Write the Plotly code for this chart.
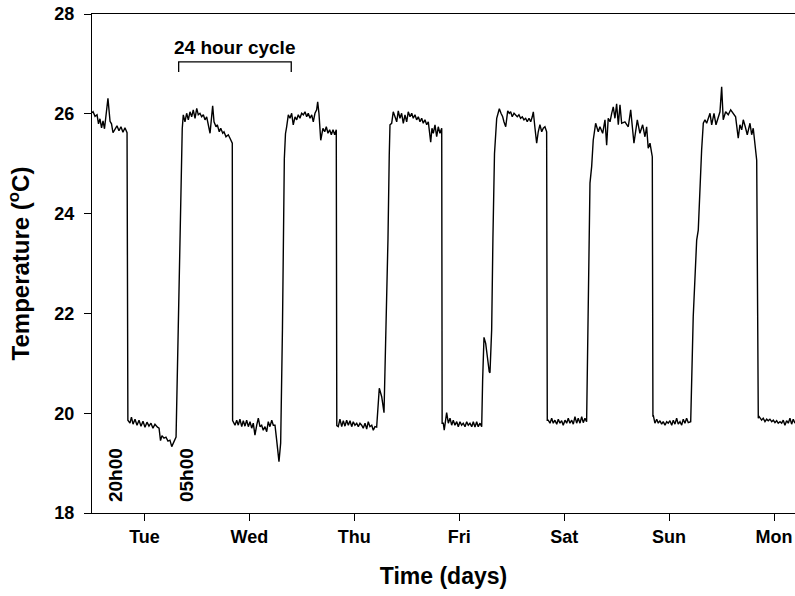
import plotly.graph_objects as go

# time in days (Mon 00:00 = 0, Tue = 1, ... next Mon = 7), temperature in deg C
days = [
    0.500, 0.510, 0.529, 0.548, 0.562, 0.576, 0.591, 0.605, 0.619, 0.633, 0.652, 0.672, 0.686, 0.700, 0.719, 0.738, 0.757, 0.776, 0.795, 0.814, 0.834,
    0.842, 0.862, 0.876, 0.891, 0.910, 0.929, 0.948, 0.967, 0.986, 1.005, 1.024, 1.043, 1.062, 1.081, 1.100, 1.124, 1.139, 1.153, 1.167, 1.186, 1.205, 1.224, 1.243, 1.260, 1.281, 1.301,
    1.322, 1.348, 1.360,
    1.370, 1.386, 1.402, 1.418, 1.434, 1.450, 1.465, 1.482, 1.498, 1.513, 1.529, 1.545, 1.561, 1.577, 1.593, 1.608, 1.625, 1.650, 1.663, 1.682, 1.694, 1.713, 1.727, 1.746, 1.758, 1.777, 1.799, 1.815, 1.831, 1.837,
    1.840, 1.847, 1.863, 1.879, 1.894, 1.910, 1.927, 1.942, 1.958, 1.974, 1.990, 2.006, 2.022, 2.037, 2.053, 2.070, 2.085, 2.101, 2.117, 2.132, 2.149, 2.165, 2.180, 2.196, 2.213, 2.228, 2.244, 2.260, 2.282, 2.298,
    2.315, 2.333, 2.344,
    2.355, 2.371, 2.387, 2.403, 2.418, 2.435, 2.451, 2.466, 2.482, 2.498, 2.514, 2.530, 2.546, 2.561, 2.578, 2.594, 2.609, 2.625, 2.641, 2.651, 2.663, 2.680, 2.701, 2.718, 2.733, 2.749, 2.765, 2.781, 2.797, 2.813, 2.828,
    2.833, 2.847, 2.863, 2.880, 2.895, 2.911, 2.927, 2.943, 2.959, 2.975, 2.990, 3.006, 3.023, 3.038, 3.054, 3.070, 3.085, 3.102, 3.118, 3.133, 3.149, 3.166, 3.181, 3.197, 3.213,
    3.238, 3.261, 3.283, 3.302, 3.321, 3.333,
    3.340, 3.356, 3.371, 3.388, 3.404, 3.419, 3.435, 3.451, 3.467, 3.483, 3.499, 3.514, 3.531, 3.547, 3.562, 3.578, 3.594, 3.610, 3.626, 3.642, 3.657, 3.673, 3.690, 3.705, 3.728, 3.740, 3.753, 3.769, 3.785, 3.800, 3.816, 3.833,
    3.837, 3.848, 3.857, 3.880, 3.896, 3.912, 3.928, 3.943, 3.959, 3.976, 3.991, 4.007, 4.023, 4.038, 4.055, 4.071, 4.086, 4.102, 4.119, 4.134, 4.150, 4.166, 4.181, 4.198, 4.214,
    4.223, 4.236, 4.252, 4.267, 4.286, 4.293, 4.309, 4.321, 4.336,
    4.357, 4.372, 4.382, 4.398, 4.414, 4.426, 4.443, 4.462, 4.477, 4.490, 4.505, 4.522, 4.538, 4.553, 4.569, 4.585, 4.601, 4.617, 4.633, 4.648, 4.665, 4.681, 4.696, 4.706, 4.722, 4.738, 4.753, 4.769, 4.786, 4.801, 4.817, 4.833,
    4.839, 4.848, 4.865, 4.881, 4.896, 4.912, 4.929, 4.944, 4.960, 4.976, 4.991, 5.008, 5.024, 5.039, 5.055, 5.072, 5.087, 5.103, 5.119, 5.134, 5.151, 5.167, 5.182, 5.198, 5.214,
    5.230, 5.246, 5.262, 5.277, 5.300,
    5.325, 5.341, 5.367, 5.389, 5.405, 5.420, 5.437, 5.453, 5.468, 5.484, 5.500, 5.516, 5.532, 5.548, 5.579, 5.611, 5.634, 5.665, 5.697, 5.722, 5.748, 5.770, 5.786, 5.801, 5.818, 5.834, 5.840,
    5.846, 5.849, 5.865, 5.882, 5.897, 5.913, 5.929, 5.944, 5.961, 5.977, 5.992, 6.008, 6.025, 6.040, 6.056, 6.072, 6.087, 6.104, 6.120, 6.135, 6.151, 6.167, 6.183, 6.199,
    6.206, 6.230, 6.247, 6.263, 6.278, 6.294, 6.310, 6.326,
    6.342, 6.358, 6.373, 6.390, 6.406, 6.428, 6.447, 6.469, 6.485, 6.501, 6.516, 6.539, 6.564, 6.587, 6.612, 6.634, 6.659, 6.675, 6.692, 6.707, 6.726, 6.745, 6.771, 6.787, 6.802, 6.812, 6.825, 6.835,
    6.844, 6.850,
    6.859, 6.882, 6.897, 6.914, 6.930, 6.945, 6.961, 6.978, 6.993, 7.009, 7.025, 7.040, 7.057, 7.073, 7.088, 7.104, 7.120, 7.136, 7.152, 7.168, 7.183, 7.200,
]

temperature = [
    26.02, 26.04, 25.95, 25.98, 25.80, 25.90, 25.72, 25.86, 25.70, 25.95, 26.31, 25.85, 25.80, 25.62, 25.70, 25.76, 25.66, 25.74, 25.63, 25.72, 25.62,
    19.86, 19.80, 19.92, 19.78, 19.88, 19.76, 19.86, 19.74, 19.84, 19.72, 19.82, 19.74, 19.80, 19.70, 19.78, 19.72, 19.70, 19.45, 19.55, 19.50, 19.52, 19.44, 19.46, 19.33, 19.42, 19.52,
    21.70, 25.00, 25.70,
    25.98, 25.84, 26.01, 25.88, 26.04, 25.94, 26.08, 25.91, 26.11, 25.98, 26.01, 25.94, 25.98, 25.88, 25.94, 25.78, 25.61, 26.16, 25.84, 25.74, 25.78, 25.64, 25.71, 25.61, 25.64, 25.54, 25.58, 25.51, 25.44, 25.41,
    19.85, 19.83, 19.76, 19.86, 19.76, 19.88, 19.73, 19.85, 19.74, 19.86, 19.73, 19.83, 19.70, 19.80, 19.56, 19.76, 19.90, 19.73, 19.76, 19.66, 19.73, 19.63, 19.83, 19.73, 19.86, 19.76, 19.76, 19.46, 19.03, 19.40,
    21.67, 25.10, 25.60,
    25.74, 25.98, 25.91, 26.01, 25.78, 25.94, 25.88, 25.98, 25.91, 26.01, 25.98, 26.04, 25.94, 26.01, 25.91, 25.98, 25.84, 26.01, 26.08, 26.24, 26.01, 25.47, 25.71, 25.64, 25.74, 25.61, 25.68, 25.58, 25.68, 25.58, 25.68,
    19.75, 19.73, 19.88, 19.73, 19.85, 19.74, 19.86, 19.76, 19.85, 19.73, 19.83, 19.76, 19.80, 19.73, 19.80, 19.76, 19.70, 19.80, 19.68, 19.83, 19.73, 19.76, 19.66, 19.73, 19.72,
    20.50, 20.33, 20.01, 21.67, 23.50, 25.17,
    25.78, 25.81, 26.04, 25.94, 25.84, 26.06, 25.91, 26.01, 25.81, 25.98, 25.84, 26.04, 25.94, 26.01, 25.91, 25.98, 25.88, 25.94, 25.84, 25.91, 25.81, 25.88, 25.78, 25.84, 25.43, 25.71, 25.61, 25.78, 25.54, 25.74, 25.61, 25.71,
    19.80, 19.80, 19.66, 20.01, 19.80, 19.90, 19.76, 19.86, 19.76, 19.83, 19.73, 19.83, 19.76, 19.80, 19.73, 19.83, 19.76, 19.80, 19.73, 19.83, 19.72, 19.83, 19.73, 19.80, 19.73,
    20.67, 21.52, 21.40, 21.13, 20.83, 20.81, 21.67, 23.50, 25.20,
    25.91, 26.04, 26.10, 26.01, 25.94, 25.84, 25.74, 26.06, 26.01, 26.04, 25.94, 26.01, 25.98, 25.94, 25.98, 25.91, 25.94, 25.88, 25.91, 25.84, 25.91, 25.84, 25.94, 26.04, 25.71, 25.41, 25.64, 25.78, 25.64, 25.71, 25.74, 25.64,
    19.86, 19.86, 19.80, 19.90, 19.80, 19.86, 19.78, 19.88, 19.80, 19.85, 19.76, 19.86, 19.80, 19.90, 19.80, 19.86, 19.78, 19.93, 19.80, 19.90, 19.80, 19.93, 19.81, 19.90, 19.83,
    22.27, 24.61, 24.94, 25.47, 25.81,
    25.64, 25.74, 25.61, 25.88, 25.37, 25.91, 25.84, 26.01, 26.14, 25.91, 26.20, 25.78, 26.18, 25.81, 25.84, 25.74, 26.08, 25.41, 25.88, 25.61, 25.78, 25.54, 25.74, 25.31, 25.41, 25.21, 25.14,
    19.93, 19.96, 19.80, 19.88, 19.80, 19.85, 19.78, 19.83, 19.76, 19.83, 19.80, 19.85, 19.76, 19.86, 19.78, 19.90, 19.78, 19.83, 19.76, 19.88, 19.80, 19.90, 19.81, 19.83,
    19.83, 21.93, 22.94, 23.47, 23.67, 24.61, 25.27, 25.81,
    25.88, 25.81, 25.91, 26.01, 25.78, 26.01, 25.78, 25.94, 26.04, 26.54, 25.88, 26.04, 25.98, 26.08, 26.01, 25.94, 25.51, 25.78, 25.68, 25.88, 25.74, 25.58, 25.81, 25.58, 25.71, 25.54, 25.34, 25.07,
    22.00, 19.90,
    19.93, 19.86, 19.90, 19.83, 19.88, 19.85, 19.88, 19.83, 19.86, 19.81, 19.85, 19.80, 19.83, 19.80, 19.86, 19.76, 19.85, 19.80, 19.90, 19.78, 19.88, 19.80,
]

tick_days = [1, 2, 3, 4, 5, 6, 7]
tick_labels = ["Tue", "Wed", "Thu", "Fri", "Sat", "Sun", "Mon"]
y_ticks = [18, 20, 22, 24, 26, 28]

FONT = "Liberation Sans, Arial, sans-serif"

fig = go.Figure()
fig.add_trace(go.Scatter(
    x=days, y=temperature, mode="lines",
    line=dict(color="black", width=1.4),
    hoverinfo="skip", showlegend=False,
))

# 24 hour cycle bracket
bx0, bx1 = 1.326, 2.399
by_top, by_bot = 27.04, 26.84
fig.add_shape(type="path",
              path=f"M {bx0},{by_bot} L {bx0},{by_top} L {bx1},{by_top} L {bx1},{by_bot}",
              line=dict(color="black", width=1.3), xref="x", yref="y")
fig.add_annotation(x=(bx0 + bx1) / 2, y=27.33, text="<b>24 hour cycle</b>", showarrow=False,
                   font=dict(family=FONT, size=19, color="black"), xref="x", yref="y")
fig.add_annotation(x=0.719, y=18.76, text="<b>20h00</b>", textangle=-90, showarrow=False,
                   font=dict(family=FONT, size=19, color="black"), xref="x", yref="y")
fig.add_annotation(x=1.396, y=18.76, text="<b>05h00</b>", textangle=-90, showarrow=False,
                   font=dict(family=FONT, size=19, color="black"), xref="x", yref="y")

fig.update_layout(
    width=795, height=596,
    margin=dict(l=92, r=0, t=14, b=83, autoexpand=False),
    plot_bgcolor="white", paper_bgcolor="white",
    font=dict(family=FONT, color="black"),
    xaxis=dict(
        range=[0.5, 7.2], tickvals=tick_days, ticktext=[f"<b>{t}</b>" for t in tick_labels],
        showline=True, linecolor="black", linewidth=1.3, mirror=True,
        ticks="outside", ticklen=7, tickwidth=1.2, tickcolor="black",
        showgrid=False, zeroline=False, automargin=False,
        tickfont=dict(family=FONT, size=18, color="black"),
        title=dict(text="<b>Time (days)</b>", font=dict(family=FONT, size=23, color="black"), standoff=22),
    ),
    yaxis=dict(
        range=[18, 28], tickvals=y_ticks, ticktext=[f"<b>{v}</b>" for v in y_ticks],
        showline=True, linecolor="black", linewidth=1.3,
        ticks="outside", ticklen=7, tickwidth=1.2, tickcolor="black",
        showgrid=False, zeroline=False, automargin=False,
        ticklabelstandoff=6,
        tickfont=dict(family=FONT, size=18, color="black"),
        title=dict(text="<b>Temperature (<sup>o</sup>C)</b>", font=dict(family=FONT, size=24, color="black"), standoff=17),
    ),
)

fig.write_html("out.html", config={"displayModeBar": False},
               post_script="document.body.style.margin='0px';document.body.style.overflow='hidden';")
